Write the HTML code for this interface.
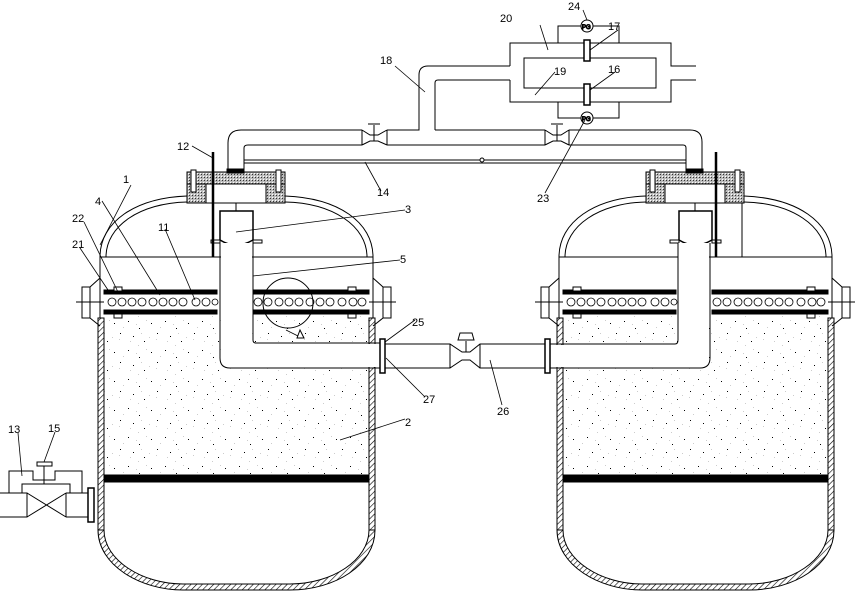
<!DOCTYPE html>
<html><head><meta charset="utf-8"><style>
html,body{margin:0;padding:0;background:#fff}
svg{display:block}
text{font-family:"Liberation Sans",sans-serif;font-size:11px;fill:#000}
</style></head><body>
<svg width="857" height="598" viewBox="0 0 857 598" xmlns="http://www.w3.org/2000/svg">
<defs>
<pattern id="hatch" width="4" height="4" patternUnits="userSpaceOnUse" patternTransform="rotate(45)">
<rect width="4" height="4" fill="#fff"/><line x1="0" y1="0" x2="0" y2="4" stroke="#000" stroke-width="1.2"/>
</pattern>
<pattern id="cross" width="3" height="3" patternUnits="userSpaceOnUse">
<rect width="3" height="3" fill="#bbb"/><rect width="1" height="1" fill="#333"/><rect x="2" y="2" width="1" height="1" fill="#fff"/>
</pattern>
<pattern id="sand" width="37" height="29" patternUnits="userSpaceOnUse">
<rect width="37" height="29" fill="#fff"/>
<rect x="3" y="4" width="1" height="1" fill="#000"/><rect x="17" y="2" width="1" height="1" fill="#000"/>
<rect x="28" y="9" width="1" height="1" fill="#000"/><rect x="9" y="14" width="1" height="1" fill="#000"/>
<rect x="22" y="17" width="1" height="1" fill="#000"/><rect x="33" y="22" width="1" height="1" fill="#000"/>
<rect x="12" y="8" width="1" height="1" fill="#ccc"/><rect x="25" y="5" width="1" height="1" fill="#ccc"/>
<rect x="30" y="14" width="1" height="1" fill="#ccc"/><rect x="1" y="18" width="1" height="1" fill="#ccc"/>
<rect x="19" y="22" width="1" height="1" fill="#ccc"/><rect x="35" y="1" width="1" height="1" fill="#ccc"/>
<rect x="8" y="20" width="1" height="1" fill="#ccc"/><rect x="27" y="26" width="1" height="1" fill="#ccc"/>
</pattern>
<g id="tank" stroke="#000" fill="none" stroke-width="1">
  <rect x="104" y="314" width="266" height="162" fill="url(#sand)" stroke="none"/>
  <rect x="98" y="318" width="6" height="212" fill="url(#hatch)"/>
  <rect x="369" y="318" width="6" height="212" fill="url(#hatch)"/>
  <path d="M98,530 C98,565 140,590 183,590 L290,590 C335,590 375,565 375,530 L369,530 C369,560 332,584 290,584 L183,584 C142,584 104,560 104,530 Z" fill="url(#hatch)"/>
  <path d="M100,318 L100,257 C100,222 135,198 187,196"/>
  <path d="M106,257 C106,226 140,203 187,202"/>
  <path d="M373,318 L373,257 C373,222 338,198 285,196"/>
  <path d="M367,257 C367,226 333,203 285,202"/>
  <line x1="100" y1="257" x2="373" y2="257"/>
  <path d="M100,278 L90,287 M100,326 L90,318 M373,278 L383,287 M373,326 L383,318"/>
  <rect x="82" y="287" width="8" height="31" fill="#fff"/>
  <rect x="383" y="287" width="8" height="31" fill="#fff"/>
  <line x1="76" y1="302" x2="104" y2="302"/><line x1="369" y1="302" x2="396" y2="302"/>
  <rect x="187" y="172" width="98" height="12" fill="url(#cross)"/>
  <rect x="187" y="184" width="19" height="19" fill="url(#cross)"/>
  <rect x="266" y="184" width="19" height="19" fill="url(#cross)"/>
  <rect x="206" y="184" width="60" height="19" fill="#fff"/>
  <rect x="191" y="170" width="5" height="22" fill="#fff"/>
  <rect x="276" y="170" width="5" height="22" fill="#fff"/>
  <line x1="236" y1="203" x2="236" y2="211"/>
  <path d="M220,211 L253,211 L253,240 Q236,250 220,240 Z" fill="#fff" stroke-width="1.5"/>
  <rect x="211" y="240" width="9" height="3" fill="#fff"/><rect x="253" y="240" width="9" height="3" fill="#fff"/>
  <rect x="104" y="290" width="113" height="4" fill="#000"/>
  <rect x="104" y="310" width="113" height="4" fill="#000"/>
  <rect x="253" y="290" width="116" height="4" fill="#000"/>
  <rect x="253" y="310" width="116" height="4" fill="#000"/>
  <g stroke-width="0.8">
  <circle cx="112" cy="302" r="4"/><circle cx="122" cy="302" r="4"/><circle cx="132" cy="302" r="4"/><circle cx="142" cy="302" r="4"/><circle cx="153" cy="302" r="4"/><circle cx="163" cy="302" r="4"/><circle cx="173" cy="302" r="4"/><circle cx="183" cy="302" r="4"/><circle cx="196" cy="302" r="4"/><circle cx="206" cy="302" r="4"/><circle cx="215" cy="302" r="3"/>
  <circle cx="258" cy="302" r="4"/><circle cx="268" cy="302" r="4"/><circle cx="279" cy="302" r="4"/><circle cx="289" cy="302" r="4"/><circle cx="299" cy="302" r="4"/><circle cx="310" cy="302" r="4"/><circle cx="320" cy="302" r="4"/><circle cx="330" cy="302" r="4"/><circle cx="342" cy="302" r="4"/><circle cx="353" cy="302" r="4"/><circle cx="362" cy="302" r="4"/>
  </g>
  <rect x="114" y="287" width="8" height="4" fill="#fff"/><rect x="348" y="287" width="8" height="4" fill="#fff"/>
  <rect x="114" y="314" width="8" height="4" fill="#fff"/><rect x="348" y="314" width="8" height="4" fill="#fff"/>
  <rect x="104" y="475" width="265" height="7" fill="#000"/>
</g>
</defs>

<use href="#tank"/>
<use href="#tank" transform="translate(459,0)"/>

<g stroke="#000" fill="none" stroke-width="1">
<rect x="221" y="243" width="31" height="124" fill="#fff" stroke="none"/>
<rect x="221" y="344" width="159" height="23" fill="#fff" stroke="none"/>
<path d="M220,243 L220,358 Q220,368 230,368 L380,368 M253,243 L253,340 Q253,343 256,343 L380,343"/>
<line x1="213" y1="152" x2="213" y2="257" stroke-width="2.5"/>
<line x1="716" y1="152" x2="716" y2="257" stroke-width="2.5"/>
<line x1="742" y1="203" x2="742" y2="257"/>
<rect x="380" y="339" width="5" height="34" fill="#fff" stroke-width="1.5"/>
<path d="M385,344 L450,344 L462,352 L470,352 L480,344 L545,344 M385,368 L450,368 L462,360 L470,360 L480,368 L545,368 M450,344 L450,368 M480,344 L480,368 M466,352 L466,341"/>
<path d="M458,340 L460,333 L472,333 L474,340 Z"/>
<rect x="545" y="339" width="5" height="34" fill="#fff" stroke-width="1.5"/>
<rect x="551" y="345" width="158" height="22" fill="#fff" stroke="none"/>
<rect x="678" y="243" width="31" height="124" fill="#fff" stroke="none"/>
<path d="M550,344 L675,344 Q678,344 678,340 L678,243 M550,368 L700,368 Q710,368 710,358 L710,243"/>
<path d="M228,170 L228,143 Q228,130 241,130 L362,130 M244,170 L244,148 Q244,145 248,145 L362,145"/>
<path d="M387,130 L419,130 L419,75 Q419,66 428,66 L510,66 M387,145 L545,145 M435,130 L435,83 Q435,80 438,80 L510,80 M435,130 L545,130"/>
<path d="M569,130 L690,130 Q702,130 702,142 L702,170 M569,145 L683,145 Q686,145 686,148 L686,170"/>
<line x1="244" y1="160" x2="686" y2="160"/><line x1="244" y1="163" x2="686" y2="163"/>
<circle cx="482" cy="160" r="2" fill="#fff"/>
<rect x="227" y="169" width="17" height="4" fill="#000"/><rect x="686" y="169" width="17" height="4" fill="#000"/>
<path d="M362,130 L362,145 M387,130 L387,145 M362,130 L370,135 L378,135 L387,130 M362,145 L370,141 L378,141 L387,145 M374,141 L374,125 M368,124 L380,124"/>
<path d="M545,130 L545,145 M569,130 L569,145 M545,130 L553,135 L561,135 L569,130 M545,145 L553,141 L561,141 L569,145 M557,141 L557,125 M551,124 L563,124"/>
<path d="M510,66 L510,43 L671,43 L671,66 L696,66 M696,80 L671,80 L671,102 L510,102 L510,80"/>
<rect x="524" y="58" width="132" height="30"/>
<path d="M558,43 L558,26 L619,26 L619,43 M558,102 L558,118 L619,118 L619,102"/>
<circle cx="587" cy="26" r="6" fill="#fff"/><circle cx="587" cy="118" r="6" fill="#fff"/>
<text x="582" y="29" style="font-size:6px">PG</text><text x="582" y="121" style="font-size:6px">PG</text>
<rect x="584" y="40" width="6" height="21" fill="#fff" stroke-width="1.5"/>
<rect x="584" y="84" width="6" height="21" fill="#fff" stroke-width="1.5"/>
<path d="M0,493 L27,493 L27,517 L0,517 M27,493 L66,517 M27,517 L66,493 M66,493 L88,493 M66,517 L88,517 M66,493 L66,517 M9,493 L9,471 L33,471 L33,480 L55,480 L55,471 L82,471 L82,493 M22,493 L22,484 L70,484 L70,493 M44,484 L44,466 M37,462 L52,462 L52,466 L37,466 Z"/>
<rect x="88" y="488" width="6" height="34" fill="#fff" stroke-width="1.5"/>
<circle cx="288" cy="303" r="25"/>
<path d="M297,338 L300,330 L304,338 Z"/>
<g stroke-width="0.8">
<line x1="583" y1="10" x2="587" y2="20"/>
<line x1="540" y1="25" x2="548" y2="50"/>
<line x1="618" y1="30" x2="590" y2="50"/>
<line x1="395" y1="66" x2="425" y2="92"/>
<line x1="555" y1="72" x2="535" y2="95"/>
<line x1="615" y1="72" x2="590" y2="90"/>
<line x1="192" y1="146" x2="213" y2="158"/>
<line x1="131" y1="185" x2="100" y2="245"/>
<line x1="381" y1="191" x2="365" y2="162"/>
<line x1="545" y1="193" x2="585" y2="120"/>
<line x1="102" y1="201" x2="160" y2="295"/>
<line x1="84" y1="222" x2="118" y2="292"/>
<line x1="165" y1="229" x2="195" y2="300"/>
<line x1="405" y1="210" x2="236" y2="232"/>
<line x1="400" y1="260" x2="253" y2="276"/>
<line x1="80" y1="248" x2="110" y2="293"/>
<line x1="415" y1="320" x2="385" y2="342"/>
<line x1="425" y1="397" x2="386" y2="358"/>
<line x1="502" y1="405" x2="490" y2="360"/>
<line x1="405" y1="419" x2="340" y2="440"/>
<line x1="18" y1="433" x2="22" y2="476"/>
<line x1="55" y1="432" x2="44" y2="462"/>
<line x1="286" y1="330" x2="298" y2="336"/>
</g>
</g>
<g>
<text x="568" y="10">24</text>
<text x="500" y="22">20</text>
<text x="608" y="30">17</text>
<text x="380" y="64">18</text>
<text x="554" y="75">19</text>
<text x="608" y="73">16</text>
<text x="177" y="150">12</text>
<text x="123" y="183">1</text>
<text x="377" y="196">14</text>
<text x="537" y="202">23</text>
<text x="95" y="205">4</text>
<text x="72" y="222">22</text>
<text x="158" y="231">11</text>
<text x="405" y="213">3</text>
<text x="400" y="263">5</text>
<text x="72" y="248">21</text>
<text x="412" y="326">25</text>
<text x="423" y="403">27</text>
<text x="497" y="415">26</text>
<text x="405" y="426">2</text>
<text x="8" y="433">13</text>
<text x="48" y="432">15</text>
</g>
</svg>
</body></html>
